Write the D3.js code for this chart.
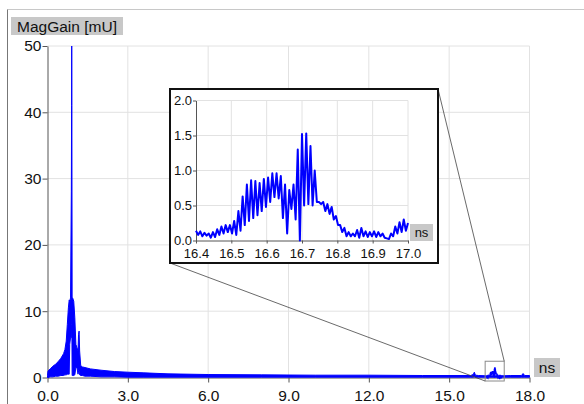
<!DOCTYPE html>
<html><head><meta charset="utf-8">
<script src="https://cdn.jsdelivr.net/npm/d3@7"></script>
<style>
html,body{margin:0;padding:0;background:#fff;}
svg{display:block;font-family:"Liberation Sans",Arial,sans-serif;}
</style></head>
<body><svg id="c" width="584" height="404"></svg>
<script>
// ---- data ----
const yLabel = "MagGain [mU]";
const xUnit = "ns";
const mainXTicks = [0, 3, 6, 9, 12, 15, 18];
const mainYTicks = [0, 10, 20, 30, 40, 50];
const zoomXTicks = [16.4, 16.5, 16.6, 16.7, 16.8, 16.9, 17.0];
const zoomYTicks = [0, 0.5, 1.0, 1.5, 2.0];

// envelope of the dense main trace (time ns, low, high in mU)
const envT  = [0.00,0.02,0.10,0.20,0.30,0.40,0.50,0.60,0.65,0.70,
               0.74,0.78,0.81,0.83,0.86,0.89,0.90,0.905,0.91,0.92,
               0.94,0.98,1.02,1.06,1.10,1.14,1.16,1.18,1.20,1.24,
               1.30,1.40,1.60,2.00,2.50,3.00,3.60,4.50,6.00,8.00,
               10.0,12.0,14.0,15.80,15.90,15.94,15.98,16.10,16.40,17.00,
               17.30,17.70,17.76,17.82,18.00];
const envLo = [0.00,0.00,0.10,0.10,0.20,0.20,0.30,0.30,0.40,0.40,
               0.50,0.50,0.50,5.00,6.00,6.00,8.00,10.0,8.00,0.30,
               0.30,0.30,0.40,1.50,1.50,0.50,1.00,1.00,0.40,0.30,
               0.30,0.20,0.20,0.10,0.10,0.05,0.05,0.05,0.05,0.05,
               0.05,0.05,0.05,0.05,0.05,0.10,0.05,0.05,0.05,0.05,
               0.05,0.05,0.05,0.05,0.05];
const envHi = [0.30,1.00,1.30,1.70,2.00,2.40,2.90,3.60,4.20,5.50,
               8.00,10.5,11.7,11.5,12.0,28.0,41.0,50.0,41.0,12.0,
               12.0,11.5,9.00,5.00,4.50,4.00,6.50,7.00,4.00,1.80,
               1.60,1.50,1.30,1.10,0.90,0.80,0.70,0.55,0.45,0.40,
               0.35,0.35,0.30,0.30,0.45,0.80,0.35,0.30,0.25,0.25,
               0.30,0.30,0.60,0.30,0.30];

// zoomed trace 16.4 – 17.0 ns, one sample every 0.006 ns
const zoomT0 = 16.4, zoomDt = 0.006;
const zoomV = [0.14,0.08,0.13,0.06,0.11,0.07,0.10,0.04,0.12,0.05,
               0.16,0.08,0.20,0.10,0.22,0.12,0.22,0.10,0.28,0.08,
               0.42,0.14,0.63,0.22,0.80,0.28,0.86,0.32,0.85,0.36,
               0.82,0.42,0.88,0.48,0.90,0.55,0.96,0.62,0.96,0.60,
               0.92,0.32,0.80,0.10,0.72,0.45,0.80,0.30,1.30,0.00,
               1.52,0.50,1.53,0.52,1.35,0.50,1.00,0.55,0.55,0.52,
               0.55,0.42,0.52,0.38,0.48,0.30,0.35,0.22,0.22,0.12,
               0.18,0.06,0.12,0.06,0.10,0.06,0.15,0.04,0.18,0.06,
               0.13,0.05,0.12,0.06,0.13,0.05,0.12,0.06,0.10,0.04,
               0.03,0.02,0.10,0.06,0.20,0.10,0.26,0.12,0.30,0.14,0.25];

// ---- drawing ----
const svg = d3.select("#c");
const FONT = 15.5, BLUE = "#0000ff", GRID = "#e2e2e2";

// outer frame
svg.append("line").attr("x1",7.5).attr("x2",584).attr("y1",9.5).attr("y2",9.5).attr("stroke","#c8c8c8");
svg.append("line").attr("x1",7.5).attr("x2",7.5).attr("y1",9.5).attr("y2",404).attr("stroke","#777");

const x = d3.scaleLinear().domain([0,18]).range([47.5,529.5]);
const y = d3.scaleLinear().domain([0,50]).range([377.5,46]);

const g = svg.append("g");
// grid
g.selectAll(".vg").data(mainXTicks.slice(1)).join("line")
  .attr("x1",d=>x(d)).attr("x2",d=>x(d)).attr("y1",y(50)).attr("y2",y(0)).attr("stroke",GRID);
g.selectAll(".hg").data(mainYTicks.slice(1)).join("line")
  .attr("x1",x(0)).attr("x2",x(18)).attr("y1",d=>y(d)).attr("y2",d=>y(d)).attr("stroke",GRID);

// axes
const ax = g.append("g").attr("transform",`translate(0,${y(0)})`)
  .call(d3.axisBottom(x).tickValues(mainXTicks).tickFormat(d3.format(".1f")).tickSize(5).tickSizeOuter(0));
const ay = g.append("g").attr("transform",`translate(${x(0)},0)`)
  .call(d3.axisLeft(y).tickValues(mainYTicks).tickFormat(d3.format("d")).tickSize(5).tickSizeOuter(0));
[ax,ay].forEach(a=>{
  a.select(".domain").attr("stroke","#555");
  a.selectAll(".tick line").attr("stroke","#555");
  a.selectAll("text").attr("font-size",FONT).attr("fill","#111").attr("font-family","Liberation Sans, Arial, sans-serif");
});
ax.selectAll("text").attr("dy","1.0em");
ay.selectAll("text").attr("x",-6);

// data: envelope
const env = envT.map((t,i)=>({t,lo:envLo[i],hi:envHi[i]}));
g.append("path").datum(env)
  .attr("d",d3.area().x(d=>x(d.t)).y0(d=>y(d.lo)).y1(d=>y(d.hi)))
  .attr("fill",BLUE).attr("stroke",BLUE).attr("stroke-width",1).attr("stroke-linejoin","round");
const zoom = zoomV.map((v,i)=>({t:zoomT0+i*zoomDt, v}));
g.append("path").datum(zoom)
  .attr("d",d3.line().x(d=>x(d.t)).y(d=>y(d.v)))
  .attr("fill","none").attr("stroke",BLUE).attr("stroke-width",1.4);

// label boxes
function labelBox(parent, text, xLeft, yTop, w, h, fs){
  parent.append("rect").attr("x",xLeft).attr("y",yTop).attr("width",w).attr("height",h).attr("fill","#c8c8c8");
  parent.append("text").attr("x",xLeft+w/2).attr("y",yTop+h/2).attr("dy","0.36em")
    .attr("text-anchor","middle").attr("font-size",fs).attr("fill","#111").text(text);
}
labelBox(svg, yLabel, 11, 17, 112, 18, FONT);
labelBox(svg, xUnit, 534, 358, 26, 19, FONT);

// zoom rectangle on main chart
const zx0 = x(16.4)-1.5, zx1 = x(17.0)+1.5, zy0 = y(2.0)-3, zy1 = y(0)+3.5;
svg.append("rect").attr("x",zx0).attr("y",zy0).attr("width",zx1-zx0).attr("height",zy1-zy0)
  .attr("fill","none").attr("stroke","#8a8a8a").attr("stroke-width",1);

// inset
const ib = {x0:170, y0:89, x1:438, y1:263};
svg.append("line").attr("x1",ib.x1).attr("y1",ib.y0).attr("x2",zx1).attr("y2",zy0).attr("stroke","#444").attr("stroke-width",0.8);
svg.append("line").attr("x1",ib.x0).attr("y1",ib.y1).attr("x2",zx0).attr("y2",zy1).attr("stroke","#444").attr("stroke-width",0.8);

svg.append("rect").attr("x",ib.x0).attr("y",ib.y0).attr("width",ib.x1-ib.x0).attr("height",ib.y1-ib.y0)
  .attr("fill","#fff").attr("stroke","#111").attr("stroke-width",2);

const xi = d3.scaleLinear().domain([16.4,17.0]).range([196,408]);
const yi = d3.scaleLinear().domain([0,2]).range([240.5,100.5]);
const gi = svg.append("g");
gi.selectAll(".vg").data(zoomXTicks.slice(1)).join("line")
  .attr("x1",d=>xi(d)).attr("x2",d=>xi(d)).attr("y1",yi(2)).attr("y2",yi(0)).attr("stroke",GRID);
gi.selectAll(".hg").data(zoomYTicks.slice(1)).join("line")
  .attr("x1",xi(16.4)).attr("x2",xi(17.0)).attr("y1",d=>yi(d)).attr("y2",d=>yi(d)).attr("stroke",GRID);
const axi = gi.append("g").attr("transform",`translate(0,${yi(0)})`)
  .call(d3.axisBottom(xi).tickValues(zoomXTicks).tickFormat(d3.format(".1f")).tickSize(3).tickSizeOuter(0));
const ayi = gi.append("g").attr("transform",`translate(${xi(16.4)},0)`)
  .call(d3.axisLeft(yi).tickValues(zoomYTicks).tickFormat(d3.format(".1f")).tickSize(3).tickSizeOuter(0));
[axi,ayi].forEach(a=>{
  a.select(".domain").attr("stroke","#555");
  a.selectAll(".tick line").attr("stroke","#555");
  a.selectAll("text").attr("font-size",13).attr("fill","#111").attr("font-family","Liberation Sans, Arial, sans-serif");
});
axi.selectAll("text").attr("dy","0.85em");
ayi.selectAll("text").attr("x",-4);
gi.append("path").datum(zoom)
  .attr("d",d3.line().x(d=>xi(d.t)).y(d=>yi(d.v)))
  .attr("fill","none").attr("stroke",BLUE).attr("stroke-width",2).attr("stroke-linejoin","round");
labelBox(gi, xUnit, 410, 224, 23, 17, 13);
</script></body></html>
